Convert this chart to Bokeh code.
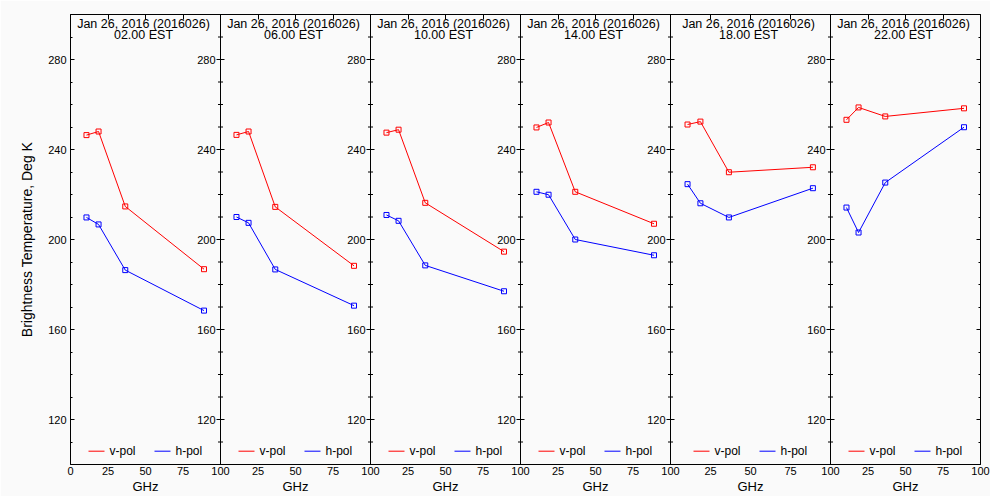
from bokeh.plotting import figure
from bokeh.models import (Range1d, LinearAxis, FixedTicker, Span, CustomJSTickFormatter)
from bokeh.embed import file_html
from bokeh.resources import INLINE
from bokeh.core.properties import value

# ---------------- data ----------------
freq_ghz = [10.65, 18.7, 36.5, 89.0]
date_label = "Jan 26, 2016 (2016026)"
time_labels = ["02.00 EST", "06.00 EST", "10.00 EST", "14.00 EST", "18.00 EST", "22.00 EST"]

vpol_02 = [246.4, 248.0, 214.7, 186.8]
hpol_02 = [209.8, 206.7, 186.4, 168.4]
vpol_06 = [246.5, 248.0, 214.5, 188.3]
hpol_06 = [210.0, 207.4, 186.7, 170.6]
vpol_10 = [247.5, 248.8, 216.3, 194.6]
hpol_10 = [210.9, 208.3, 188.5, 177.0]
vpol_14 = [249.8, 252.0, 221.2, 207.0]
hpol_14 = [221.2, 219.9, 200.0, 193.0]
vpol_18 = [251.1, 252.4, 229.9, 232.1]
hpol_18 = [224.6, 216.1, 209.8, 222.8]
vpol_22 = [253.2, 258.7, 254.7, 258.3]
hpol_22 = [214.2, 203.1, 225.3, 249.9]

vpol_series = [vpol_02, vpol_06, vpol_10, vpol_14, vpol_18, vpol_22]
hpol_series = [hpol_02, hpol_06, hpol_10, hpol_14, hpol_18, hpol_22]

x_tick_values = [0, 25, 50, 75, 100]
x_axis_title = "GHz"
y_major_ticks = [120, 160, 200, 240, 280]
y_minor_ticks = [110, 130, 140, 150, 170, 180, 190, 210, 220, 230, 250, 260, 270, 290]
legend_labels = ["v-pol", "h-pol"]

# ---------------- layout (pixels) ----------------
panel_widths = [150, 150, 150, 150, 160, 150]
offsets = [sum(panel_widths[:i]) for i in range(len(panel_widths))]
TOTAL_W = sum(panel_widths)
FRAME_H = 450
Y0, Y1 = 100, 300
PX_PER_K = FRAME_H / (Y1 - Y0)
BG = "#fafafa"
FONT = "Liberation Sans"
RED = "#ff0000"
BLUE = "#0000ff"

# legend geometry (pixels from panel left, for a 150px panel) and height above bottom
LEG_RED_C, LEG_V_TXT, LEG_BLUE_C, LEG_H_TXT = 26, 39, 92, 105
LEG_Y_PX = 13.3

p = figure(frame_width=TOTAL_W, frame_height=FRAME_H,
           x_range=Range1d(0, TOTAL_W), y_range=Range1d(Y0, Y1),
           output_backend="svg", toolbar_location=None,
           min_border_left=70, min_border_right=10, min_border_top=14, min_border_bottom=30,
           background_fill_color=BG, border_fill_color=BG,
           outline_line_color="black", outline_line_width=1)
p.grid.visible = False

extra = {}
for k, (off, w) in enumerate(zip(offsets, panel_widths)):
    sc = w / 100.0
    extra[f"p{k}"] = Range1d(-off / sc, (TOTAL_W - off) / sc)
p.extra_x_ranges = extra

# bottom axis: tick labels per panel
tick_pos = []
tick_lab = {}
for k, (off, w) in enumerate(zip(offsets, panel_widths)):
    sc = w / 100.0
    for t in x_tick_values:
        if k > 0 and t == 0:
            continue
        pos = off + t * sc
        tick_pos.append(pos)
        tick_lab[pos] = str(t)

xa = p.xaxis[0]
xa.ticker = FixedTicker(ticks=tick_pos, minor_ticks=[])
xa.major_label_overrides = tick_lab
xa.major_tick_in = 0
xa.major_tick_out = 0
xa.minor_tick_in = 0
xa.minor_tick_out = 0
xa.major_label_standoff = 2
xa.major_label_text_font = FONT
xa.major_label_text_font_size = "11px"
xa.major_label_text_color = "black"
xa.axis_line_color = "black"

# second bottom axis carrying one "GHz" title under each panel
centers = [off + w / 2.0 for off, w in zip(offsets, panel_widths)]
ghz_axis = LinearAxis(ticker=FixedTicker(ticks=centers, minor_ticks=[]),
                      major_label_overrides={c: x_axis_title for c in centers},
                      major_tick_in=0, major_tick_out=0, minor_tick_in=0, minor_tick_out=0,
                      major_label_standoff=1, axis_line_color=None,
                      major_label_text_font=FONT, major_label_text_font_size="13px",
                      major_label_text_color="black")
p.add_layout(ghz_axis, "below")

# top axis with inward ticks
inner_ticks = [pos for pos in tick_pos if pos not in offsets and pos != TOTAL_W]
top = LinearAxis(ticker=FixedTicker(ticks=inner_ticks, minor_ticks=[]),
                 formatter=CustomJSTickFormatter(code="return ''"),
                 major_tick_in=5, major_tick_out=0, minor_tick_in=0, minor_tick_out=0,
                 major_label_standoff=0, axis_line_color="black")
p.add_layout(top, "above")

# left axis
ya = p.yaxis[0]
ya.ticker = FixedTicker(ticks=y_major_ticks, minor_ticks=y_minor_ticks)
ya.major_tick_in = 4
ya.major_tick_out = 0
ya.minor_tick_in = 2
ya.minor_tick_out = 0
ya.major_label_standoff = 4
ya.major_label_text_font = FONT
ya.major_label_text_font_size = "11px"
ya.major_label_text_color = "black"
ya.axis_line_color = "black"
ya.axis_label = "Brightness Temperature, Deg K"
ya.axis_label_text_font = FONT
ya.axis_label_text_font_size = "14px"
ya.axis_label_text_font_style = "normal"
ya.axis_label_text_color = "black"
ya.axis_label_standoff = 10

# right axis
right = LinearAxis(ticker=FixedTicker(ticks=y_major_ticks, minor_ticks=y_minor_ticks),
                   formatter=CustomJSTickFormatter(code="return ''"),
                   major_tick_in=4, major_tick_out=0, minor_tick_in=2, minor_tick_out=0,
                   major_label_standoff=0, axis_line_color="black")
p.add_layout(right, "right")

# panel separators
for off in offsets[1:]:
    p.add_layout(Span(location=off, dimension="height", line_color="black", line_width=1))

leg_y = Y0 + LEG_Y_PX / PX_PER_K

for k in range(len(panel_widths)):
    rn = f"p{k}"
    w = panel_widths[k]
    sc = w / 100.0
    shift = (w - 150) / 2.0
    # interior y ticks + labels on shared borders
    if k > 0:
        p.scatter(x=[0] * len(y_major_ticks), y=y_major_ticks, marker="dash", size=8,
                  line_color="black", line_width=1, x_range_name=rn)
        p.scatter(x=[0] * len(y_minor_ticks), y=y_minor_ticks, marker="dash", size=5,
                  line_color="black", line_width=1, x_range_name=rn)
        p.text(x=[0] * len(y_major_ticks), y=y_major_ticks, text=[str(v) for v in y_major_ticks],
               x_offset=-5, text_align="right", text_baseline="middle",
               text_font=value(FONT), text_font_size="11px", text_color="black",
               x_range_name=rn)

    # titles
    p.text(x=[50], y=[Y1], text=[date_label], x_offset=-2, y_offset=9.7,
           text_align="center", text_baseline="alphabetic",
           text_font=value(FONT), text_font_size="12.5px", text_color="black", x_range_name=rn)
    p.text(x=[50], y=[Y1], text=[time_labels[k]], x_offset=-2, y_offset=20.7,
           text_align="center", text_baseline="alphabetic",
           text_font=value(FONT), text_font_size="12.5px", text_color="black", x_range_name=rn)

    # data
    p.line(freq_ghz, vpol_series[k], line_color=RED, line_width=1, x_range_name=rn)
    p.scatter(freq_ghz, vpol_series[k], marker="square", size=5, fill_color=None,
              line_color=RED, line_width=1, x_range_name=rn)
    p.line(freq_ghz, hpol_series[k], line_color=BLUE, line_width=1, x_range_name=rn)
    p.scatter(freq_ghz, hpol_series[k], marker="square", size=5, fill_color=None,
              line_color=BLUE, line_width=1, x_range_name=rn)

    # legend (key lines + labels)
    p.scatter(x=[(LEG_RED_C + shift) / sc, (LEG_BLUE_C + shift) / sc], y=[leg_y, leg_y],
              marker="dash", size=16, line_color=[RED, BLUE], line_width=1, x_range_name=rn)
    p.text(x=[(LEG_V_TXT + shift) / sc, (LEG_H_TXT + shift) / sc], y=[leg_y, leg_y],
           text=legend_labels, text_align="left", text_baseline="middle",
           text_font=value(FONT), text_font_size="12px", text_color="black", x_range_name=rn)

open("out.html", "w").write(file_html(p, INLINE))
